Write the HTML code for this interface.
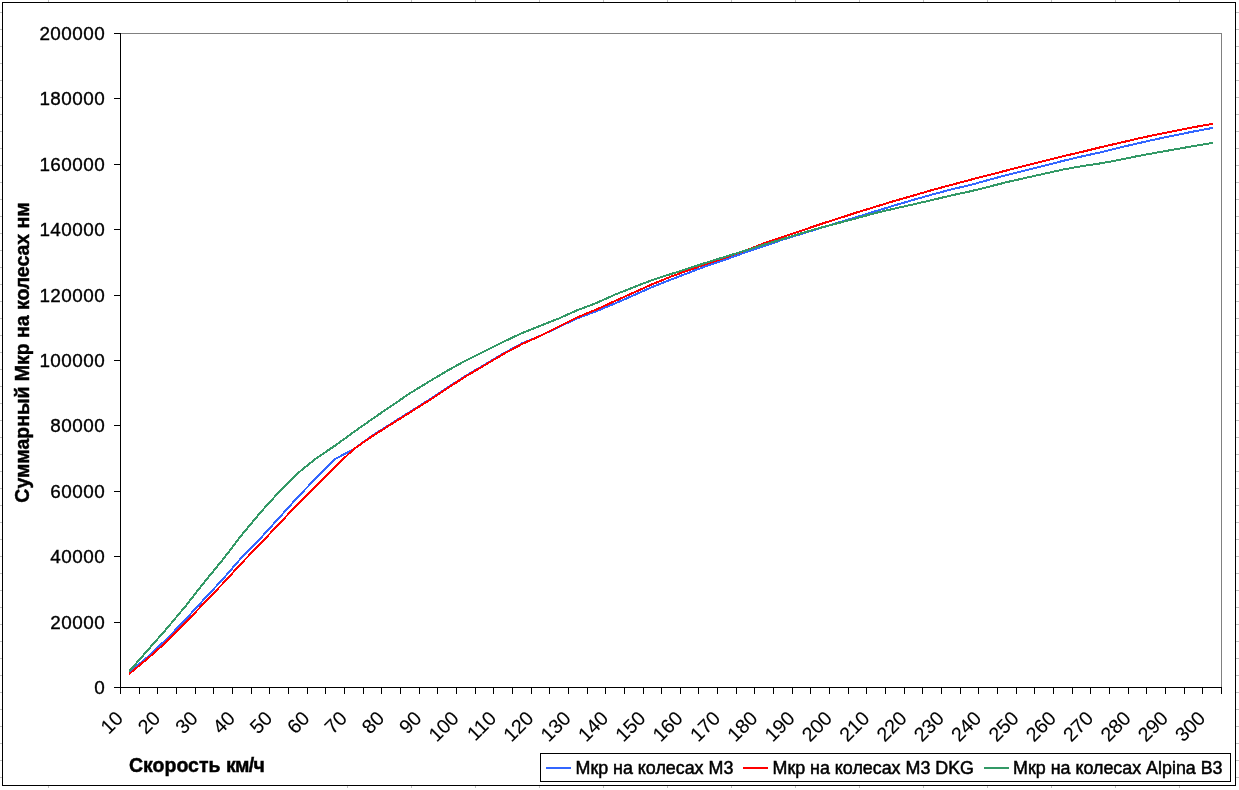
<!DOCTYPE html>
<html lang="ru"><head><meta charset="utf-8"><title>Мкр на колесах</title>
<style>
html,body{margin:0;padding:0;background:#fff;}
body{width:1239px;height:790px;overflow:hidden;font-family:"Liberation Sans",sans-serif;}
svg{display:block}
text{font-family:"Liberation Sans",sans-serif;fill:#000}
.ax{font-size:18.9px;stroke:#000;stroke-width:.35px;letter-spacing:.44px}
.xl{font-size:19.7px;stroke:#000;stroke-width:.12px}
.bt{font-size:19.5px;font-weight:bold;stroke:#000;stroke-width:.45px}
.lg{font-size:17.88px;stroke:#000;stroke-width:.5px}
</style></head><body>
<svg width="1239" height="790" viewBox="0 0 1239 790">
<rect x="0" y="0" width="1239" height="790" fill="#fff"/>
<g shape-rendering="crispEdges"><rect x="0" y="12" width="2" height="1" fill="#c0c0c0"/><rect x="1236" y="12" width="3" height="1" fill="#c0c0c0"/><rect x="0" y="29" width="2" height="1" fill="#c0c0c0"/><rect x="1236" y="29" width="3" height="1" fill="#c0c0c0"/><rect x="0" y="46" width="2" height="1" fill="#c0c0c0"/><rect x="1236" y="46" width="3" height="1" fill="#c0c0c0"/><rect x="0" y="63" width="2" height="1" fill="#c0c0c0"/><rect x="1236" y="63" width="3" height="1" fill="#c0c0c0"/><rect x="0" y="80" width="2" height="1" fill="#c0c0c0"/><rect x="1236" y="80" width="3" height="1" fill="#c0c0c0"/><rect x="0" y="97" width="2" height="1" fill="#c0c0c0"/><rect x="1236" y="97" width="3" height="1" fill="#c0c0c0"/><rect x="0" y="114" width="2" height="1" fill="#c0c0c0"/><rect x="1236" y="114" width="3" height="1" fill="#c0c0c0"/><rect x="0" y="131" width="2" height="1" fill="#c0c0c0"/><rect x="1236" y="131" width="3" height="1" fill="#c0c0c0"/><rect x="0" y="148" width="2" height="1" fill="#c0c0c0"/><rect x="1236" y="148" width="3" height="1" fill="#c0c0c0"/><rect x="0" y="165" width="2" height="1" fill="#c0c0c0"/><rect x="1236" y="165" width="3" height="1" fill="#c0c0c0"/><rect x="0" y="182" width="2" height="1" fill="#c0c0c0"/><rect x="1236" y="182" width="3" height="1" fill="#c0c0c0"/><rect x="0" y="199" width="2" height="1" fill="#c0c0c0"/><rect x="1236" y="199" width="3" height="1" fill="#c0c0c0"/><rect x="0" y="216" width="2" height="1" fill="#c0c0c0"/><rect x="1236" y="216" width="3" height="1" fill="#c0c0c0"/><rect x="0" y="233" width="2" height="1" fill="#c0c0c0"/><rect x="1236" y="233" width="3" height="1" fill="#c0c0c0"/><rect x="0" y="250" width="2" height="1" fill="#c0c0c0"/><rect x="1236" y="250" width="3" height="1" fill="#c0c0c0"/><rect x="0" y="267" width="2" height="1" fill="#c0c0c0"/><rect x="1236" y="267" width="3" height="1" fill="#c0c0c0"/><rect x="0" y="284" width="2" height="1" fill="#c0c0c0"/><rect x="1236" y="284" width="3" height="1" fill="#c0c0c0"/><rect x="0" y="301" width="2" height="1" fill="#c0c0c0"/><rect x="1236" y="301" width="3" height="1" fill="#c0c0c0"/><rect x="0" y="318" width="2" height="1" fill="#c0c0c0"/><rect x="1236" y="318" width="3" height="1" fill="#c0c0c0"/><rect x="0" y="335" width="2" height="1" fill="#c0c0c0"/><rect x="1236" y="335" width="3" height="1" fill="#c0c0c0"/><rect x="0" y="352" width="2" height="1" fill="#c0c0c0"/><rect x="1236" y="352" width="3" height="1" fill="#c0c0c0"/><rect x="0" y="369" width="2" height="1" fill="#c0c0c0"/><rect x="1236" y="369" width="3" height="1" fill="#c0c0c0"/><rect x="0" y="386" width="2" height="1" fill="#c0c0c0"/><rect x="1236" y="386" width="3" height="1" fill="#c0c0c0"/><rect x="0" y="403" width="2" height="1" fill="#c0c0c0"/><rect x="1236" y="403" width="3" height="1" fill="#c0c0c0"/><rect x="0" y="420" width="2" height="1" fill="#c0c0c0"/><rect x="1236" y="420" width="3" height="1" fill="#c0c0c0"/><rect x="0" y="437" width="2" height="1" fill="#c0c0c0"/><rect x="1236" y="437" width="3" height="1" fill="#c0c0c0"/><rect x="0" y="454" width="2" height="1" fill="#c0c0c0"/><rect x="1236" y="454" width="3" height="1" fill="#c0c0c0"/><rect x="0" y="471" width="2" height="1" fill="#c0c0c0"/><rect x="1236" y="471" width="3" height="1" fill="#c0c0c0"/><rect x="0" y="488" width="2" height="1" fill="#c0c0c0"/><rect x="1236" y="488" width="3" height="1" fill="#c0c0c0"/><rect x="0" y="505" width="2" height="1" fill="#c0c0c0"/><rect x="1236" y="505" width="3" height="1" fill="#c0c0c0"/><rect x="0" y="522" width="2" height="1" fill="#c0c0c0"/><rect x="1236" y="522" width="3" height="1" fill="#c0c0c0"/><rect x="0" y="539" width="2" height="1" fill="#c0c0c0"/><rect x="1236" y="539" width="3" height="1" fill="#c0c0c0"/><rect x="0" y="556" width="2" height="1" fill="#c0c0c0"/><rect x="1236" y="556" width="3" height="1" fill="#c0c0c0"/><rect x="0" y="573" width="2" height="1" fill="#c0c0c0"/><rect x="1236" y="573" width="3" height="1" fill="#c0c0c0"/><rect x="0" y="590" width="2" height="1" fill="#c0c0c0"/><rect x="1236" y="590" width="3" height="1" fill="#c0c0c0"/><rect x="0" y="607" width="2" height="1" fill="#c0c0c0"/><rect x="1236" y="607" width="3" height="1" fill="#c0c0c0"/><rect x="0" y="624" width="2" height="1" fill="#c0c0c0"/><rect x="1236" y="624" width="3" height="1" fill="#c0c0c0"/><rect x="0" y="641" width="2" height="1" fill="#c0c0c0"/><rect x="1236" y="641" width="3" height="1" fill="#c0c0c0"/><rect x="0" y="658" width="2" height="1" fill="#c0c0c0"/><rect x="1236" y="658" width="3" height="1" fill="#c0c0c0"/><rect x="0" y="675" width="2" height="1" fill="#c0c0c0"/><rect x="1236" y="675" width="3" height="1" fill="#c0c0c0"/><rect x="0" y="692" width="2" height="1" fill="#c0c0c0"/><rect x="1236" y="692" width="3" height="1" fill="#c0c0c0"/><rect x="0" y="709" width="2" height="1" fill="#c0c0c0"/><rect x="1236" y="709" width="3" height="1" fill="#c0c0c0"/><rect x="0" y="726" width="2" height="1" fill="#c0c0c0"/><rect x="1236" y="726" width="3" height="1" fill="#c0c0c0"/><rect x="0" y="743" width="2" height="1" fill="#c0c0c0"/><rect x="1236" y="743" width="3" height="1" fill="#c0c0c0"/><rect x="0" y="760" width="2" height="1" fill="#c0c0c0"/><rect x="1236" y="760" width="3" height="1" fill="#c0c0c0"/><rect x="0" y="777" width="2" height="1" fill="#c0c0c0"/><rect x="1236" y="777" width="3" height="1" fill="#c0c0c0"/><rect x="48" y="0" width="1" height="2" fill="#c0c0c0"/><rect x="48" y="786" width="1" height="2" fill="#c0c0c0"/><rect x="347" y="0" width="1" height="2" fill="#c0c0c0"/><rect x="347" y="786" width="1" height="2" fill="#c0c0c0"/><rect x="411" y="0" width="1" height="2" fill="#c0c0c0"/><rect x="411" y="786" width="1" height="2" fill="#c0c0c0"/><rect x="475" y="0" width="1" height="2" fill="#c0c0c0"/><rect x="475" y="786" width="1" height="2" fill="#c0c0c0"/><rect x="539" y="0" width="1" height="2" fill="#c0c0c0"/><rect x="539" y="786" width="1" height="2" fill="#c0c0c0"/><rect x="603" y="0" width="1" height="2" fill="#c0c0c0"/><rect x="603" y="786" width="1" height="2" fill="#c0c0c0"/><rect x="667" y="0" width="1" height="2" fill="#c0c0c0"/><rect x="667" y="786" width="1" height="2" fill="#c0c0c0"/><rect x="731" y="0" width="1" height="2" fill="#c0c0c0"/><rect x="731" y="786" width="1" height="2" fill="#c0c0c0"/><rect x="795" y="0" width="1" height="2" fill="#c0c0c0"/><rect x="795" y="786" width="1" height="2" fill="#c0c0c0"/><rect x="859" y="0" width="1" height="2" fill="#c0c0c0"/><rect x="859" y="786" width="1" height="2" fill="#c0c0c0"/><rect x="923" y="0" width="1" height="2" fill="#c0c0c0"/><rect x="923" y="786" width="1" height="2" fill="#c0c0c0"/><rect x="987" y="0" width="1" height="2" fill="#c0c0c0"/><rect x="987" y="786" width="1" height="2" fill="#c0c0c0"/><rect x="1051" y="0" width="1" height="2" fill="#c0c0c0"/><rect x="1051" y="786" width="1" height="2" fill="#c0c0c0"/><rect x="1115" y="0" width="1" height="2" fill="#c0c0c0"/><rect x="1115" y="786" width="1" height="2" fill="#c0c0c0"/><rect x="1179" y="0" width="1" height="2" fill="#c0c0c0"/><rect x="1179" y="786" width="1" height="2" fill="#c0c0c0"/></g>
<g shape-rendering="crispEdges">
<rect x="2.5" y="2.5" width="1233" height="783" fill="#fff" stroke="#000" stroke-width="1"/>
<rect x="121" y="33" width="1101" height="1" fill="#808080"/>
<rect x="1221" y="33" width="1" height="654" fill="#808080"/>
<rect x="120" y="33" width="1" height="655" fill="#000"/>
<rect x="114" y="687" width="1108" height="1" fill="#000"/>
<rect x="114" y="687" width="7" height="1" fill="#000"/><rect x="114" y="622" width="7" height="1" fill="#000"/><rect x="114" y="556" width="7" height="1" fill="#000"/><rect x="114" y="491" width="7" height="1" fill="#000"/><rect x="114" y="425" width="7" height="1" fill="#000"/><rect x="114" y="360" width="7" height="1" fill="#000"/><rect x="114" y="295" width="7" height="1" fill="#000"/><rect x="114" y="229" width="7" height="1" fill="#000"/><rect x="114" y="164" width="7" height="1" fill="#000"/><rect x="114" y="98" width="7" height="1" fill="#000"/><rect x="114" y="33" width="7" height="1" fill="#000"/>
<rect x="120" y="687" width="1" height="7" fill="#000"/><rect x="139" y="687" width="1" height="7" fill="#000"/><rect x="157" y="687" width="1" height="7" fill="#000"/><rect x="176" y="687" width="1" height="7" fill="#000"/><rect x="195" y="687" width="1" height="7" fill="#000"/><rect x="213" y="687" width="1" height="7" fill="#000"/><rect x="232" y="687" width="1" height="7" fill="#000"/><rect x="251" y="687" width="1" height="7" fill="#000"/><rect x="269" y="687" width="1" height="7" fill="#000"/><rect x="288" y="687" width="1" height="7" fill="#000"/><rect x="307" y="687" width="1" height="7" fill="#000"/><rect x="325" y="687" width="1" height="7" fill="#000"/><rect x="344" y="687" width="1" height="7" fill="#000"/><rect x="363" y="687" width="1" height="7" fill="#000"/><rect x="381" y="687" width="1" height="7" fill="#000"/><rect x="400" y="687" width="1" height="7" fill="#000"/><rect x="419" y="687" width="1" height="7" fill="#000"/><rect x="437" y="687" width="1" height="7" fill="#000"/><rect x="456" y="687" width="1" height="7" fill="#000"/><rect x="475" y="687" width="1" height="7" fill="#000"/><rect x="493" y="687" width="1" height="7" fill="#000"/><rect x="512" y="687" width="1" height="7" fill="#000"/><rect x="531" y="687" width="1" height="7" fill="#000"/><rect x="549" y="687" width="1" height="7" fill="#000"/><rect x="568" y="687" width="1" height="7" fill="#000"/><rect x="587" y="687" width="1" height="7" fill="#000"/><rect x="605" y="687" width="1" height="7" fill="#000"/><rect x="624" y="687" width="1" height="7" fill="#000"/><rect x="643" y="687" width="1" height="7" fill="#000"/><rect x="661" y="687" width="1" height="7" fill="#000"/><rect x="680" y="687" width="1" height="7" fill="#000"/><rect x="698" y="687" width="1" height="7" fill="#000"/><rect x="717" y="687" width="1" height="7" fill="#000"/><rect x="736" y="687" width="1" height="7" fill="#000"/><rect x="754" y="687" width="1" height="7" fill="#000"/><rect x="773" y="687" width="1" height="7" fill="#000"/><rect x="792" y="687" width="1" height="7" fill="#000"/><rect x="810" y="687" width="1" height="7" fill="#000"/><rect x="829" y="687" width="1" height="7" fill="#000"/><rect x="848" y="687" width="1" height="7" fill="#000"/><rect x="866" y="687" width="1" height="7" fill="#000"/><rect x="885" y="687" width="1" height="7" fill="#000"/><rect x="904" y="687" width="1" height="7" fill="#000"/><rect x="922" y="687" width="1" height="7" fill="#000"/><rect x="941" y="687" width="1" height="7" fill="#000"/><rect x="960" y="687" width="1" height="7" fill="#000"/><rect x="978" y="687" width="1" height="7" fill="#000"/><rect x="997" y="687" width="1" height="7" fill="#000"/><rect x="1016" y="687" width="1" height="7" fill="#000"/><rect x="1034" y="687" width="1" height="7" fill="#000"/><rect x="1053" y="687" width="1" height="7" fill="#000"/><rect x="1072" y="687" width="1" height="7" fill="#000"/><rect x="1090" y="687" width="1" height="7" fill="#000"/><rect x="1109" y="687" width="1" height="7" fill="#000"/><rect x="1128" y="687" width="1" height="7" fill="#000"/><rect x="1146" y="687" width="1" height="7" fill="#000"/><rect x="1165" y="687" width="1" height="7" fill="#000"/><rect x="1184" y="687" width="1" height="7" fill="#000"/><rect x="1202" y="687" width="1" height="7" fill="#000"/><rect x="1221" y="687" width="1" height="7" fill="#000"/>
</g>
<text class="ax" x="105.1" y="693.75" text-anchor="end">0</text><text class="ax" x="105.1" y="628.75" text-anchor="end">20000</text><text class="ax" x="105.1" y="562.75" text-anchor="end">40000</text><text class="ax" x="105.1" y="497.75" text-anchor="end">60000</text><text class="ax" x="105.1" y="431.75" text-anchor="end">80000</text><text class="ax" x="105.1" y="366.75" text-anchor="end">100000</text><text class="ax" x="105.1" y="301.75" text-anchor="end">120000</text><text class="ax" x="105.1" y="235.75" text-anchor="end">140000</text><text class="ax" x="105.1" y="170.75" text-anchor="end">160000</text><text class="ax" x="105.1" y="104.75" text-anchor="end">180000</text><text class="ax" x="105.1" y="39.75" text-anchor="end">200000</text>
<text class="xl" transform="translate(124.2,719.6) rotate(-45)" text-anchor="end">10</text><text class="xl" transform="translate(161.6,719.6) rotate(-45)" text-anchor="end">20</text><text class="xl" transform="translate(198.9,719.6) rotate(-45)" text-anchor="end">30</text><text class="xl" transform="translate(236.2,719.6) rotate(-45)" text-anchor="end">40</text><text class="xl" transform="translate(273.5,719.6) rotate(-45)" text-anchor="end">50</text><text class="xl" transform="translate(310.8,719.6) rotate(-45)" text-anchor="end">60</text><text class="xl" transform="translate(348.2,719.6) rotate(-45)" text-anchor="end">70</text><text class="xl" transform="translate(385.5,719.6) rotate(-45)" text-anchor="end">80</text><text class="xl" transform="translate(422.8,719.6) rotate(-45)" text-anchor="end">90</text><text class="xl" transform="translate(460.1,719.6) rotate(-45)" text-anchor="end">100</text><text class="xl" transform="translate(497.5,719.6) rotate(-45)" text-anchor="end">110</text><text class="xl" transform="translate(534.8,719.6) rotate(-45)" text-anchor="end">120</text><text class="xl" transform="translate(572.1,719.6) rotate(-45)" text-anchor="end">130</text><text class="xl" transform="translate(609.4,719.6) rotate(-45)" text-anchor="end">140</text><text class="xl" transform="translate(646.7,719.6) rotate(-45)" text-anchor="end">150</text><text class="xl" transform="translate(684.1,719.6) rotate(-45)" text-anchor="end">160</text><text class="xl" transform="translate(721.4,719.6) rotate(-45)" text-anchor="end">170</text><text class="xl" transform="translate(758.7,719.6) rotate(-45)" text-anchor="end">180</text><text class="xl" transform="translate(796.0,719.6) rotate(-45)" text-anchor="end">190</text><text class="xl" transform="translate(833.3,719.6) rotate(-45)" text-anchor="end">200</text><text class="xl" transform="translate(870.7,719.6) rotate(-45)" text-anchor="end">210</text><text class="xl" transform="translate(908.0,719.6) rotate(-45)" text-anchor="end">220</text><text class="xl" transform="translate(945.3,719.6) rotate(-45)" text-anchor="end">230</text><text class="xl" transform="translate(982.6,719.6) rotate(-45)" text-anchor="end">240</text><text class="xl" transform="translate(1020.0,719.6) rotate(-45)" text-anchor="end">250</text><text class="xl" transform="translate(1057.3,719.6) rotate(-45)" text-anchor="end">260</text><text class="xl" transform="translate(1094.6,719.6) rotate(-45)" text-anchor="end">270</text><text class="xl" transform="translate(1131.9,719.6) rotate(-45)" text-anchor="end">280</text><text class="xl" transform="translate(1169.2,719.6) rotate(-45)" text-anchor="end">290</text><text class="xl" transform="translate(1206.6,719.6) rotate(-45)" text-anchor="end">300</text>
<text class="bt" x="129" y="772">Скорость <tspan textLength="39" lengthAdjust="spacing">км/ч</tspan></text>
<text class="bt" transform="translate(29.1,352.5) rotate(-90)" text-anchor="middle" textLength="300.3" lengthAdjust="spacing">Суммарный Мкр на колесах нм</text>
<polyline points="129.8,672.0 148.5,656.2 167.2,638.5 185.8,619.2 204.5,598.8 223.1,578.9 241.8,557.3 260.5,538.3 279.1,517.8 297.8,497.1 316.4,477.7 335.1,459.1 353.8,449.0 372.4,435.5 391.1,423.7 409.7,412.0 428.4,400.2 447.1,387.8 465.7,375.8 484.4,364.8 503.1,353.6 521.7,343.5 540.4,335.8 559.0,326.9 577.7,318.2 596.4,311.2 615.0,303.5 633.7,295.3 652.3,287.0 671.0,279.6 689.7,272.4 708.3,265.3 727.0,259.0 745.6,252.3 764.3,246.0 783.0,239.6 801.6,233.9 820.3,228.1 838.9,222.4 857.6,216.8 876.3,211.0 894.9,205.3 913.6,199.8 932.3,194.5 950.9,189.5 969.6,185.2 988.2,180.0 1006.9,175.0 1025.6,170.3 1044.2,165.8 1062.9,160.9 1081.5,156.5 1100.2,152.4 1118.9,147.8 1137.5,143.4 1156.2,139.2 1174.8,135.3 1193.5,131.5 1212.2,128.0" fill="none" stroke="#3366ff" stroke-width="2" stroke-linejoin="round" stroke-linecap="square" shape-rendering="crispEdges"/>
<polyline points="129.8,673.4 148.5,657.8 167.2,641.2 185.8,622.3 204.5,602.7 223.1,583.3 241.8,562.9 260.5,543.5 279.1,523.9 297.8,503.9 316.4,485.3 335.1,466.8 353.8,449.0 372.4,436.1 391.1,424.3 409.7,412.6 428.4,400.8 447.1,388.4 465.7,376.4 484.4,365.4 503.1,354.2 521.7,344.2 540.4,335.8 559.0,326.4 577.7,317.2 596.4,309.5 615.0,301.0 633.7,292.6 652.3,284.2 671.0,276.6 689.7,269.8 708.3,263.4 727.0,257.0 745.6,250.6 764.3,243.2 783.0,237.0 801.6,230.6 820.3,224.2 838.9,218.3 857.6,212.2 876.3,206.5 894.9,200.8 913.6,195.5 932.3,190.0 950.9,185.0 969.6,180.0 988.2,175.2 1006.9,170.4 1025.6,165.6 1044.2,161.0 1062.9,156.2 1081.5,152.0 1100.2,147.3 1118.9,143.1 1137.5,138.7 1156.2,134.6 1174.8,130.9 1193.5,127.2 1212.2,124.0" fill="none" stroke="#ff0000" stroke-width="2" stroke-linejoin="round" stroke-linecap="square" shape-rendering="crispEdges"/>
<polyline points="129.8,670.7 148.5,649.3 167.2,628.1 185.8,605.8 204.5,581.9 223.1,559.3 241.8,534.8 260.5,512.4 279.1,491.9 297.8,473.2 316.4,458.2 335.1,445.6 353.8,432.0 372.4,418.9 391.1,406.1 409.7,393.4 428.4,382.0 447.1,370.8 465.7,360.6 484.4,351.4 503.1,342.0 521.7,333.2 540.4,325.8 559.0,318.4 577.7,310.0 596.4,303.0 615.0,294.6 633.7,287.2 652.3,280.0 671.0,274.0 689.7,268.0 708.3,262.0 727.0,256.2 745.6,250.5 764.3,244.6 783.0,239.0 801.6,233.2 820.3,227.8 838.9,222.9 857.6,218.0 876.3,212.8 894.9,208.5 913.6,204.3 932.3,200.0 950.9,195.5 969.6,191.5 988.2,186.9 1006.9,182.1 1025.6,177.9 1044.2,173.7 1062.9,169.6 1081.5,166.2 1100.2,163.4 1118.9,160.0 1137.5,156.1 1156.2,152.7 1174.8,149.4 1193.5,146.1 1212.2,143.0" fill="none" stroke="#339966" stroke-width="2" stroke-linejoin="round" stroke-linecap="square" shape-rendering="crispEdges"/>
<g shape-rendering="crispEdges"><rect x="540.5" y="753.5" width="690" height="28" fill="#fff" stroke="#000"/><rect x="546" y="767" width="25" height="2" fill="#3366ff"/><rect x="743" y="767" width="25" height="2" fill="#ff0000"/><rect x="984" y="767" width="25" height="2" fill="#339966"/></g>
<text class="lg" x="575.5" y="774">Мкр на колесах M3</text><text class="lg" x="772.5" y="774">Мкр на колесах M3 DKG</text><text class="lg" x="1013.1" y="774">Мкр на колесах Alpina B3</text>
</svg>
</body></html>
